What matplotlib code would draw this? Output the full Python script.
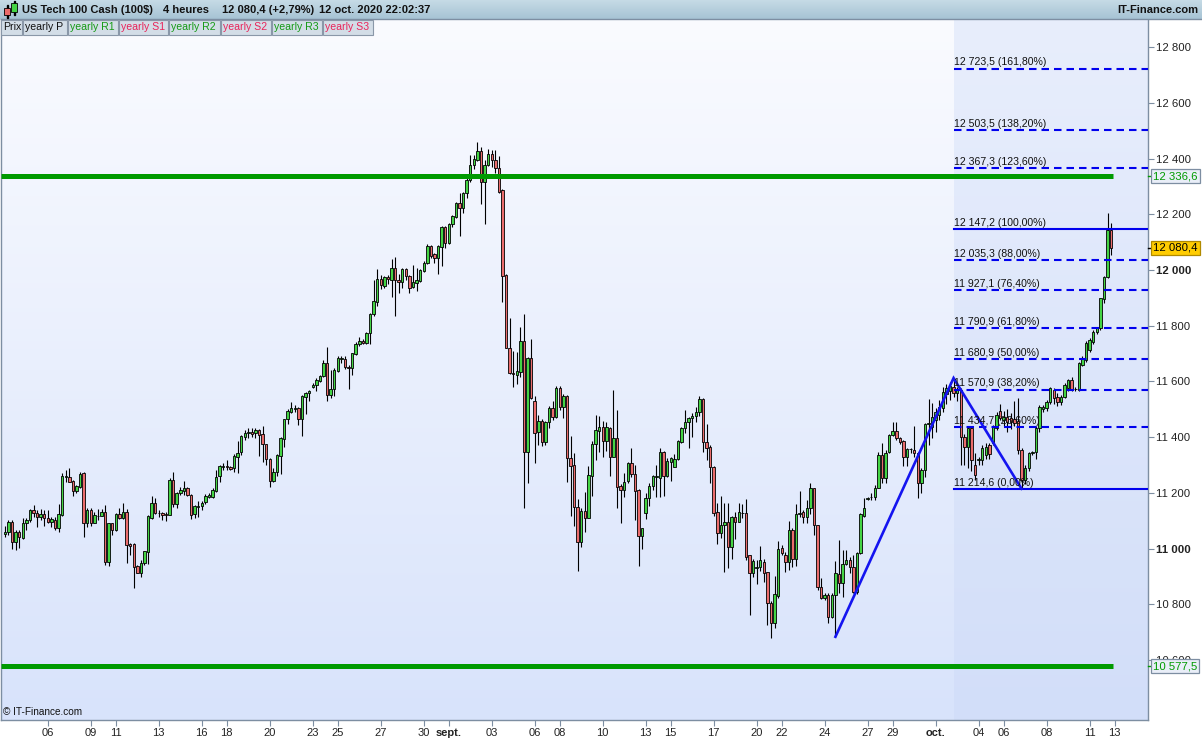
import datetime as dt
import numpy as np
import matplotlib
matplotlib.use("Agg")
import matplotlib.pyplot as plt
from matplotlib.patches import Rectangle

plt.rcParams['font.family'] = ['Liberation Sans', 'DejaVu Sans']

# ---------------- data (4-hour candles, US Tech 100 Cash) ----------------
first_day = dt.date(2020, 8, 4)
last_day = dt.date(2020, 10, 12)

opens = [
    11051, 11061, 11094, 11025, 11061, 11037, 11090, 11101, 11138, 11126,
    11114, 11123, 11108, 11094, 11102, 11075, 11120, 11256, 11256, 11241,
    11208, 11222, 11272, 11090, 11138, 11090, 11118, 11118, 11130, 10953,
    11090, 11066, 11123, 11108, 11130, 11015, 11016, 10937, 10913, 10949,
    10989, 11111, 11162, 11129, 11129, 11123, 11120, 11246, 11159, 11198,
    11208, 11217, 11192, 11123, 11150, 11152, 11168, 11186, 11186, 11207,
    11261, 11293, 11295, 11291, 11288, 11330, 11345, 11402, 11413, 11418,
    11413, 11425, 11410, 11375, 11320, 11244, 11273, 11333, 11394, 11464,
    11491, 11501, 11503, 11464, 11545, 11557, 11579, 11587, 11601, 11619,
    11665, 11551, 11571, 11638, 11682, 11679, 11653, 11647, 11697, 11733,
    11745, 11737, 11772, 11841, 11886, 11966, 11944, 11974, 11964, 12006,
    11964, 11956, 12002, 11980, 11938, 11954, 11962, 11997, 12024, 12086,
    12056, 12044, 12084, 12155, 12096, 12164, 12191, 12239, 12221, 12275,
    12323, 12377, 12395, 12428, 12317, 12377, 12416, 12395, 12365, 12287,
    11982, 11719, 11631, 11623, 11635, 11745, 11347, 11683, 11531, 11419,
    11459, 11381, 11455, 11503, 11471, 11578, 11507, 11548, 11324, 11300,
    11150, 11022, 11135, 11111, 11261, 11374, 11423, 11435, 11387, 11431,
    11330, 11396, 11224, 11210, 11243, 11306, 11266, 11210, 11046, 11126,
    11180, 11224, 11258, 11252, 11345, 11261, 11312, 11294, 11320, 11383,
    11431, 11455, 11467, 11476, 11489, 11536, 11381, 11363, 11291, 11130,
    11057, 11083, 11096, 11006, 11112, 11096, 11128, 11126, 10977, 10911,
    10931, 10932, 10953, 10914, 10806, 10734, 10829, 11001, 10977, 10953,
    11066, 10961, 11124, 11130, 11112, 11144, 11216, 11084, 10861, 10821,
    10833, 10753, 10833, 10907, 10877, 10944, 10959, 10932, 10843, 10983,
    11117, 11178, 11186, 11186, 11216, 11336, 11252, 11345, 11408, 11422,
    11396, 11386, 11327, 11357, 11354, 11342, 11234, 11282, 11447, 11438,
    11460, 11480, 11505, 11555, 11565, 11580, 11560, 11570, 11402, 11366,
    11431, 11300, 11318, 11318, 11336, 11372, 11378, 11431, 11495, 11461,
    11473, 11467, 11464, 11459, 11354, 11246, 11288, 11342, 11348, 11431,
    11500, 11503, 11527, 11569, 11545, 11527, 11545, 11575, 11605, 11572,
    11569, 11659, 11677, 11713, 11743, 11779, 11791, 11895, 11974, 12144,
]
highs = [
    11081, 11102, 11102, 11066, 11066, 11108, 11108, 11141, 11156, 11138,
    11141, 11138, 11138, 11114, 11114, 11160, 11270, 11282, 11288, 11246,
    11228, 11276, 11276, 11147, 11144, 11132, 11141, 11141, 11156, 11090,
    11093, 11126, 11144, 11162, 11141, 11019, 11019, 10941, 10959, 10991,
    11120, 11189, 11180, 11138, 11132, 11132, 11252, 11276, 11204, 11222,
    11242, 11222, 11195, 11156, 11170, 11172, 11196, 11200, 11216, 11282,
    11300, 11306, 11318, 11296, 11338, 11386, 11407, 11425, 11431, 11431,
    11431, 11428, 11440, 11377, 11324, 11288, 11338, 11399, 11466, 11500,
    11525, 11514, 11507, 11551, 11561, 11569, 11593, 11611, 11623, 11677,
    11725, 11641, 11647, 11691, 11691, 11691, 11659, 11703, 11743, 11761,
    11752, 11778, 11844, 11964, 12002, 11982, 11978, 11982, 12038, 12045,
    11985, 12006, 12008, 11982, 12018, 12008, 12002, 12033, 12093, 12090,
    12060, 12090, 12158, 12158, 12167, 12197, 12245, 12275, 12281, 12335,
    12413, 12413, 12461, 12443, 12395, 12433, 12431, 12431, 12409, 12290,
    11985, 11826, 11709, 11707, 11796, 11842, 11686, 11751, 11547, 11479,
    11464, 11459, 11511, 11531, 11583, 11583, 11553, 11551, 11404, 11344,
    11178, 11147, 11202, 11296, 11386, 11479, 11476, 11459, 11455, 11437,
    11569, 11497, 11232, 11270, 11312, 11360, 11300, 11212, 11075, 11198,
    11234, 11264, 11300, 11360, 11351, 11324, 11328, 11340, 11390, 11437,
    11497, 11473, 11485, 11509, 11548, 11539, 11447, 11372, 11296, 11162,
    11188, 11162, 11162, 11117, 11132, 11165, 11159, 11178, 10977, 10961,
    10959, 11009, 10961, 10917, 10810, 10901, 11027, 11013, 10989, 11099,
    11072, 11160, 11206, 11138, 11174, 11236, 11216, 11084, 10893, 10839,
    10839, 10839, 10955, 11031, 10995, 10995, 10971, 10977, 10989, 11126,
    11180, 11186, 11198, 11228, 11348, 11378, 11354, 11411, 11456, 11456,
    11402, 11390, 11360, 11360, 11440, 11348, 11288, 11450, 11536, 11521,
    11503, 11533, 11581, 11590, 11598, 11612, 11580, 11578, 11410, 11440,
    11436, 11342, 11330, 11372, 11380, 11380, 11445, 11490, 11520, 11495,
    11500, 11485, 11530, 11539, 11360, 11300, 11345, 11350, 11440, 11515,
    11515, 11535, 11580, 11575, 11560, 11550, 11595, 11610, 11615, 11580,
    11668, 11690, 11745, 11755, 11785, 11795, 11900, 11980, 12204, 12168,
]
lows = [
    11040, 11049, 10997, 10995, 11001, 11033, 11066, 11096, 11114, 11076,
    11102, 11081, 11090, 11078, 11066, 11061, 11117, 11240, 11240, 11190,
    11198, 11216, 11043, 11078, 11081, 11090, 11102, 11117, 10941, 10937,
    11049, 11064, 11105, 11105, 10949, 10977, 10857, 10911, 10897, 10941,
    10944, 11105, 11123, 11114, 11102, 11099, 11120, 11148, 11147, 11192,
    11192, 11190, 11105, 11111, 11114, 11140, 11160, 11180, 11180, 11204,
    11240, 11282, 11282, 11282, 11276, 11272, 11334, 11389, 11398, 11401,
    11395, 11332, 11312, 11300, 11222, 11240, 11260, 11267, 11366, 11447,
    11488, 11491, 11445, 11405, 11483, 11531, 11575, 11567, 11599, 11617,
    11531, 11539, 11549, 11635, 11667, 11643, 11573, 11623, 11695, 11727,
    11733, 11734, 11734, 11835, 11871, 11932, 11936, 11948, 11904, 11836,
    11918, 11934, 11964, 11918, 11934, 11926, 11958, 11994, 12021, 12044,
    12024, 11985, 12014, 12078, 12093, 12155, 12185, 12122, 12206, 12257,
    12317, 12361, 12392, 12237, 12165, 12373, 12371, 12349, 12275, 11886,
    11719, 11626, 11581, 11590, 11617, 11144, 11236, 11536, 11308, 11371,
    11368, 11371, 11431, 11461, 11467, 11499, 11467, 11240, 11117, 11082,
    10920, 11006, 11060, 11111, 11190, 11318, 11348, 11330, 11351, 11260,
    11330, 11144, 11093, 11184, 11236, 11258, 11102, 10937, 10997, 11105,
    11153, 11210, 11186, 11186, 11188, 11258, 11244, 11291, 11318, 11378,
    11413, 11360, 11402, 11455, 11476, 11348, 11318, 11236, 11117, 11015,
    11036, 10917, 10931, 10962, 11034, 11096, 11111, 10959, 10761, 10899,
    10871, 10920, 10881, 10725, 10677, 10714, 10824, 10977, 10917, 10923,
    10935, 10937, 11114, 11090, 11090, 11124, 11048, 10851, 10818, 10815,
    10734, 10749, 10683, 10839, 10825, 10941, 10911, 10839, 10835, 10981,
    11114, 11174, 11174, 11174, 11216, 11236, 11236, 11342, 11404, 11390,
    11375, 11296, 11296, 11342, 11330, 11180, 11198, 11258, 11372, 11396,
    11420, 11460, 11490, 11520, 11535, 11545, 11530, 11300, 11300, 11290,
    11280, 11245, 11300, 11300, 11320, 11320, 11370, 11425, 11460, 11440,
    11420, 11430, 11440, 11340, 11214.6, 11230, 11280, 11335, 11320, 11420,
    11490, 11495, 11520, 11520, 11510, 11515, 11540, 11565, 11565, 11565,
    11565, 11655, 11670, 11705, 11735, 11770, 11785, 11880, 11970, 12054,
]
closes = [
    11061, 11094, 11022, 11061, 11040, 11090, 11101, 11138, 11126, 11114,
    11123, 11108, 11094, 11106, 11075, 11123, 11260, 11260, 11240, 11208,
    11224, 11268, 11090, 11138, 11090, 11120, 11117, 11130, 10953, 11090,
    11066, 11123, 11108, 11130, 11013, 11010, 10935, 10913, 10949, 10991,
    11117, 11162, 11126, 11128, 11120, 11122, 11246, 11159, 11201, 11210,
    11217, 11192, 11120, 11153, 11152, 11165, 11188, 11192, 11210, 11258,
    11297, 11297, 11293, 11286, 11332, 11344, 11404, 11413, 11418, 11410,
    11425, 11407, 11374, 11320, 11244, 11275, 11336, 11396, 11464, 11494,
    11503, 11503, 11464, 11548, 11557, 11567, 11588, 11605, 11619, 11665,
    11551, 11571, 11641, 11683, 11683, 11650, 11647, 11701, 11733, 11745,
    11737, 11772, 11842, 11889, 11966, 11946, 11974, 11966, 12006, 11964,
    11956, 12002, 11980, 11934, 11956, 11964, 12000, 12024, 12086, 12050,
    12044, 12086, 12155, 12096, 12164, 12194, 12239, 12221, 12275, 12323,
    12377, 12397, 12428, 12317, 12377, 12416, 12395, 12365, 12281, 11980,
    11719, 11631, 11625, 11638, 11746, 11347, 11683, 11539, 11416, 11459,
    11381, 11455, 11503, 11471, 11575, 11507, 11548, 11324, 11296, 11148,
    11022, 11135, 11108, 11264, 11375, 11425, 11435, 11387, 11435, 11330,
    11396, 11222, 11210, 11240, 11306, 11266, 11208, 11046, 11072, 11180,
    11224, 11260, 11260, 11345, 11261, 11314, 11324, 11320, 11386, 11431,
    11453, 11467, 11476, 11489, 11536, 11384, 11360, 11291, 11129, 11057,
    11083, 11096, 11006, 11112, 11096, 11132, 11126, 10971, 10911, 10955,
    10932, 10959, 10911, 10806, 10731, 10835, 10997, 10985, 10953, 11066,
    10961, 11124, 11129, 11112, 11144, 11216, 11084, 10861, 10821, 10833,
    10753, 10833, 10911, 10875, 10944, 10959, 10932, 10843, 10983, 11124,
    11144, 11181, 11184, 11216, 11336, 11252, 11344, 11408, 11422, 11396,
    11381, 11327, 11357, 11356, 11342, 11236, 11282, 11447, 11450, 11473,
    11491, 11509, 11563, 11575, 11582, 11560, 11572, 11402, 11366, 11431,
    11318, 11264, 11322, 11360, 11366, 11340, 11436, 11479, 11467, 11473,
    11455, 11455, 11452, 11354, 11246, 11288, 11342, 11348, 11431, 11509,
    11509, 11527, 11575, 11539, 11527, 11545, 11587, 11605, 11569, 11571,
    11665, 11683, 11739, 11749, 11779, 11791, 11898, 11976, 12144, 12080.4,
]

tick_dates = [
    "2020-08-06", "2020-08-09", "2020-08-11", "2020-08-13", "2020-08-16",
    "2020-08-18", "2020-08-20", "2020-08-23", "2020-08-25", "2020-08-27",
    "2020-08-30", "2020-09-01", "2020-09-03", "2020-09-06", "2020-09-08",
    "2020-09-10", "2020-09-13", "2020-09-15", "2020-09-17", "2020-09-20",
    "2020-09-22", "2020-09-24", "2020-09-27", "2020-09-29", "2020-10-01",
    "2020-10-04", "2020-10-06", "2020-10-08", "2020-10-11", "2020-10-13",
]
month_names = {9: "sept.", 10: "oct."}

yearly_r1 = 12336.6
yearly_s1 = 10577.5
fib_pcts = [0.0, 23.6, 38.2, 50.0, 61.8, 76.4, 88.0, 100.0, 123.6, 138.2, 161.8]
fib_values = [11214.6, 11434.7, 11570.9, 11680.9, 11790.9, 11927.1, 12035.3,
              12147.2, 12367.3, 12503.5, 12723.5]
zigzag_bars = [232, 265, 284]           # low, high, low
zigzag_kind = ["low", "high", "low"]
fib_anchor_bar = 265

header_parts = ["US Tech 100 Cash (100$)", "4 heures", "12 080,4 (+2,79%)",
                "12 oct. 2020 22:02:37"]
legend_items = ["Prix", "yearly P", "yearly R1", "yearly S1", "yearly R2",
                "yearly S2", "yearly R3", "yearly S3"]

# ---------------- bar calendar (6 bars per weekday, 1 on Sunday) ----------------
bar_day = []
d = first_day
while d <= last_day:
    wd = d.weekday()
    if wd == 6:
        bar_day.append(d)
    elif wd < 5:
        bar_day.extend([d] * 6)
    d += dt.timedelta(days=1)

o = np.array(opens, float); h = np.array(highs, float)
l = np.array(lows, float); c = np.array(closes, float)
n = len(c)
assert len(o) == len(h) == len(l) == n == len(bar_day), (len(o), len(h), len(l), n, len(bar_day))
idx = np.arange(n)


def fmt_num(v, dec=1):
    s = f"{v:,.{dec}f}"
    return s.replace(",", " ").replace(".", ",")


# ---------------- figure ----------------
W, H = 1202, 740
fig = plt.figure(figsize=(W / 100, H / 100), dpi=100)
fig.patch.set_facecolor("white")

AX_L, AX_R, AX_T, AX_B = 1, 1148, 20, 720
ax = fig.add_axes([AX_L / W, 1 - AX_B / H, (AX_R - AX_L) / W, (AX_B - AX_T) / H])

px_per_bar = 3.58
x_first = 4.87
xlim = ((AX_L - x_first) / px_per_bar, (AX_R - x_first) / px_per_bar)
ppu = 0.2785
ylim = (12000 - (AX_B - 270) / ppu, 12000 + (270 - AX_T) / ppu)
ax.set_xlim(*xlim)
ax.set_ylim(*ylim)

# background gradients
grad = np.linspace(0, 1, 256)[:, None]
top_c = np.array([250, 251, 255]) / 255
bot_c = np.array([216, 227, 251]) / 255
img = top_c[None, None, :] * (1 - grad[..., None]) + bot_c[None, None, :] * grad[..., None]
ax.imshow(img, extent=[xlim[0], xlim[1], ylim[0], ylim[1]], aspect="auto", zorder=0,
          origin="upper", interpolation="bilinear")
top_f = np.array([232, 238, 252]) / 255
bot_f = np.array([210, 222, 249]) / 255
imgf = top_f[None, None, :] * (1 - grad[..., None]) + bot_f[None, None, :] * grad[..., None]
ax.imshow(imgf, extent=[fib_anchor_bar, xlim[1], ylim[0], ylim[1]], aspect="auto",
          zorder=0.5, origin="upper", interpolation="bilinear")
ax.set_xlim(*xlim)
ax.set_ylim(*ylim)

# candles
up = c >= o
bot = np.minimum(o, c)
hgt = np.abs(c - o)
ax.vlines(idx, l, h, color="black", lw=0.8, zorder=3)
ax.bar(idx[up], hgt[up], bottom=bot[up], width=0.68, color="#44d444",
       edgecolor="black", linewidth=0.6, zorder=4)
ax.bar(idx[~up], hgt[~up], bottom=bot[~up], width=0.68, color="#ea6c6c",
       edgecolor="black", linewidth=0.6, zorder=4)

# yearly pivot lines
for lvl in (yearly_r1, yearly_s1):
    ax.plot([xlim[0], idx[-1] + 0.5], [lvl, lvl], color="#009a00", lw=3.6,
            solid_capstyle="butt", zorder=6)

# fibonacci levels
for p, v in zip(fib_pcts, fib_values):
    ls = "-" if p in (0.0, 100.0) else (0, (3.6, 2.4))
    ax.plot([fib_anchor_bar, xlim[1]], [v, v], color="#0000ee", lw=1.5, ls=ls, zorder=6)
    ax.text(fib_anchor_bar + 0.1, v + 4, f"{fmt_num(v)} ({p:.2f}%)".replace(".", ","),
            fontsize=7.6, color="#111111", ha="left", va="bottom", zorder=7)

# zigzag
zz_y = [l[b] if k == "low" else h[b] for b, k in zip(zigzag_bars, zigzag_kind)]
ax.plot(zigzag_bars, zz_y, color="#1414f0", lw=1.9, zorder=6.5, solid_joinstyle="miter")

# axes styling
ax.spines["top"].set_visible(False)
for s in ("left", "right", "bottom"):
    ax.spines[s].set_color("#7d8ea2")
    ax.spines[s].set_linewidth(1.0)

ax.yaxis.tick_right()
yt = np.arange(10600, 12801, 200)
ax.set_yticks(yt)
ax.set_yticklabels([fmt_num(v, 0) for v in yt])
for lab, v in zip(ax.get_yticklabels(), yt):
    if v % 1000 == 0:
        lab.set_fontweight("bold")
        lab.set_fontsize(8.6)
ax.tick_params(axis="y", direction="out", length=4, width=0.8, color="#7d8ea2",
               labelsize=8.2, pad=2, labelcolor="#222222")

tick_pos, tick_lab = [], []
for t in tick_dates:
    td = dt.date.fromisoformat(t)
    pos = bar_day.index(td) if td in bar_day else n
    tick_pos.append(pos)
    tick_lab.append(month_names[td.month] if td.day == 1 else f"{td.day:02d}")
ax.set_xticks(tick_pos)
ax.set_xticklabels(tick_lab)
for lab, t in zip(ax.get_xticklabels(), tick_dates):
    if t.endswith("-01"):
        lab.set_fontweight("bold")
ax.tick_params(axis="x", direction="out", length=4, width=0.8, color="#7d8ea2",
               labelsize=8.0, pad=2, labelcolor="#222222")

# right-side value boxes
ytrans = ax.get_yaxis_transform()
dx = 5 / (AX_R - AX_L)
for val, fc, tc, ec in ((yearly_r1, "#e9eef8", "#009a00", "#7d8ea2"),
                        (yearly_s1, "#e9eef8", "#009a00", "#7d8ea2"),
                        (c[-1], "#ffcc00", "#000000", "#b08a00")):
    ax.plot([1.0, 1.0 + dx], [val, val], color=tc, lw=1, transform=ytrans,
            clip_on=False, zorder=9)
    ax.text(1.0 + dx, val, fmt_num(val), transform=ytrans, fontsize=8.2, color=tc,
            ha="left", va="center", clip_on=False, zorder=10,
            bbox=dict(boxstyle="square,pad=0.18", fc=fc, ec=ec, lw=0.9))

ax.text(0.002, 0.004, "© IT-Finance.com", transform=ax.transAxes, fontsize=7.2,
        ha="left", va="bottom", color="#111111", zorder=8)


# ---------------- header (figure pixel coordinates) ----------------
def fig_rect(x0, y0, x1, y1, **kw):
    r = Rectangle((x0 / W, 1 - y1 / H), (x1 - x0) / W, (y1 - y0) / H,
                  transform=fig.transFigure, **kw)
    fig.add_artist(r)
    return r


hax = fig.add_axes([0, 1 - 19 / H, 1, 19 / H])
hg = np.linspace(0, 1, 64)[:, None]
htop = np.array([198, 219, 230]) / 255
hbot = np.array([166, 195, 212]) / 255
himg = htop[None, None, :] * (1 - hg[..., None]) + hbot[None, None, :] * hg[..., None]
hax.imshow(himg, extent=[0, 1, 0, 1], aspect="auto", origin="upper")
hax.set_axis_off()
fig_rect(0, 18.6, W, 19.4, color="#7d8ea2", zorder=19)

# candle icon
fig_rect(6.5, 5, 7.5, 18, color="black", zorder=20)
fig_rect(4, 8, 10, 15, facecolor="#ea6c6c", edgecolor="black", lw=0.6, zorder=21)
fig_rect(13.5, 0.5, 14.5, 15, color="black", zorder=20)
fig_rect(11, 3, 17, 12, facecolor="#44d444", edgecolor="black", lw=0.6, zorder=21)

header_x = [22, 163, 222, 319]
for xx, txt in zip(header_x, header_parts):
    fig.text(xx / W, 1 - 10 / H, txt, fontsize=8.0, fontweight="bold", ha="left",
             va="center", color="#111111", zorder=22)
fig.text(1198 / W, 1 - 10 / H, "IT-Finance.com", fontsize=8.0, fontweight="bold",
         ha="right", va="center", color="#111111", zorder=22)

# legend buttons
btn_edges = [1, 23, 68, 119, 169, 221, 272, 323, 374]
for i, txt in enumerate(legend_items):
    x0, x1 = btn_edges[i], btn_edges[i + 1] - 1
    fig_rect(x0, 19.5, x1, 35, facecolor="#d3dde7", edgecolor="#8a97a8", lw=0.8, zorder=20)
    if "R" in txt:
        col = "#159a15"
    elif "S" in txt:
        col = "#e8245a"
    else:
        col = "#111111"
    fig.text((x0 + 2) / W, 1 - 27.5 / H, txt, fontsize=7.6, ha="left", va="center",
             color=col, zorder=22)

fig.savefig("out.png", dpi=100)
